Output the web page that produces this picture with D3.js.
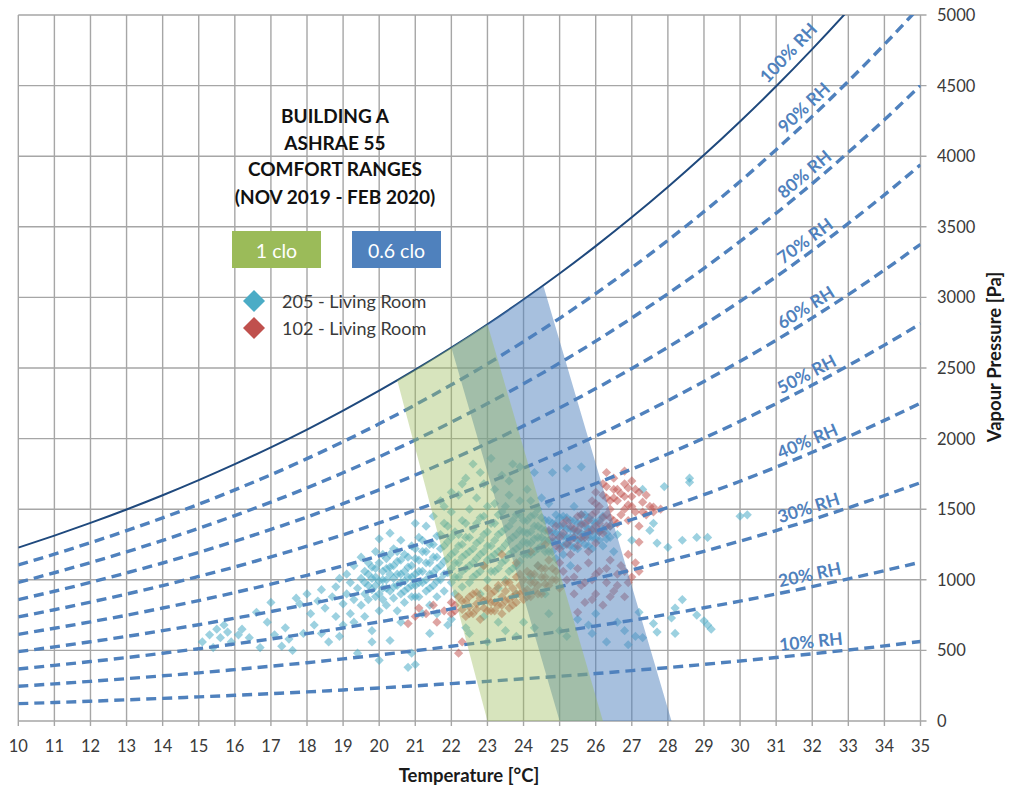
<!DOCTYPE html>
<html><head><meta charset="utf-8">
<script src="https://cdn.jsdelivr.net/npm/d3@7"></script>
<style>
html,body{margin:0;padding:0;background:#fff;}
svg{display:block;font-family:Lato,"Open Sans",sans-serif;}
</style></head><body>
<svg id="chart" width="1010" height="786"></svg>
<script>
// ---- data ----
const temperatures = [10,11,12,13,14,15,16,17,18,19,20,21,22,23,24,25,26,27,28,29,30,31,32,33,34,35];
const yTicks = [0,500,1000,1500,2000,2500,3000,3500,4000,4500,5000];
const rh100 = [1228,1313,1403,1498,1599,1706,1819,1938,2064,2198,2339,2488,2645,2810,2985,3169,3363,3567,3782,4008,4246,4495,4758,5034,5323,5627];
const rh90 = [1105,1182,1263,1348,1439,1535,1637,1744,1858,1978,2105,2239,2381,2529,2687,2852,3027,3210,3404,3607,3821,4046,4282,4531,4791,5064];
const rh80 = [982,1050,1122,1198,1279,1365,1455,1550,1651,1758,1871,1990,2116,2248,2388,2535,2690,2854,3026,3206,3397,3596,3806,4027,4258,4502];
const rh70 = [860,919,982,1049,1119,1194,1273,1357,1445,1539,1637,1742,1852,1967,2090,2218,2354,2497,2647,2806,2972,3147,3331,3524,3726,3939];
const rh60 = [737,788,842,899,959,1024,1091,1163,1238,1319,1403,1493,1587,1686,1791,1901,2018,2140,2269,2405,2548,2697,2855,3020,3194,3376];
const rh50 = [614,657,702,749,800,853,910,969,1032,1099,1170,1244,1323,1405,1493,1585,1682,1784,1891,2004,2123,2248,2379,2517,2662,2814];
const rh40 = [491,525,561,599,640,682,728,775,826,879,936,995,1058,1124,1194,1268,1345,1427,1513,1603,1698,1798,1903,2014,2129,2251];
const rh30 = [368,394,421,449,480,512,546,581,619,659,702,746,794,843,896,951,1009,1070,1135,1202,1274,1349,1427,1510,1597,1688];
const rh20 = [246,263,281,300,320,341,364,388,413,440,468,498,529,562,597,634,673,713,756,802,849,899,952,1007,1065,1125];
const rh10 = [123,131,140,150,160,171,182,194,206,220,234,249,265,281,299,317,336,357,378,401,425,450,476,503,532,563];
const rhLabels = ["100% RH","90% RH","80% RH","70% RH","60% RH","50% RH","40% RH","30% RH","20% RH","10% RH"];

const zone1clo = [[20.5,2413],[21,2488],[22,2645],[23,2810],[26.2,0],[23,0]];
const zone06clo = [[22,2645],[23,2810],[24,2985],[24.55,3083],[28.1,0],[25,0]];
const zoneNames = ["1 clo","0.6 clo"];
const seriesNames = ["205 - Living Room","102 - Living Room"];
const titleLines = ["BUILDING A","ASHRAE 55","COMFORT RANGES","(NOV 2019 - FEB 2020)"];

const room205 = [
[15.1,560],[15.3,610],[15.4,520],[15.5,650],[15.6,590],[15.7,680],[15.8,630],[15.9,560],[16.1,610],[16.2,650],[16.4,590],[16.6,770],[16.7,520],[16.9,700],[17.0,840],[17.1,610],[17.3,530],[17.4,660],[17.5,580],[17.6,500],
[17.7,870],[17.8,830],[17.9,620],[18.0,900],[18.1,760],[18.2,680],[18.3,850],[18.4,930],[18.4,620],[18.5,800],[18.6,560],[18.7,880],[18.8,950],[18.8,740],[18.9,600],[18.9,1010],[19.0,830],[19.0,680],
[19.1,900],[19.1,1040],[19.2,760],[19.2,980],[19.3,860],[19.3,1100],[19.3,700],[19.4,940],[19.4,480],[19.5,1010],[19.5,820],[19.5,1160],[19.6,900],[19.6,1060],[19.6,740],[19.7,960],[19.7,1120],[19.7,860],[19.8,1010],[19.8,930],[19.8,640],[19.9,1080],[19.9,880],[19.9,1200],[20.0,990],[20.0,780],[20.0,430],[20.0,1290],
[20.1,940],[20.1,1060],[20.1,860],[20.2,1150],[20.2,1000],[20.2,820],[20.3,1330],[20.3,920],[20.3,1090],[20.3,570],[20.4,1010],[20.4,1220],[20.4,870],[20.5,960],[20.5,1130],[20.5,780],[20.6,1040],[20.6,900],[20.6,1280],[20.7,1180],[20.7,990],[20.7,840],[20.8,1090],[20.8,940],[20.8,380],[20.9,1240],[20.9,1020],[20.9,880],[20.9,480],[21.0,1150],[21.0,960],[21.0,1400],[21.0,400],
[21.1,1060],[21.1,880],[21.1,1300],[21.2,1200],[21.2,980],[21.2,760],[21.3,1120],[21.3,1380],[21.3,920],[21.4,1040],[21.4,1250],[21.4,820],[21.4,620],[21.5,1160],[21.5,960],[21.5,1450],[21.6,1080],[21.6,1310],[21.6,880],[21.7,1220],[21.7,1000],[21.7,1560],[21.8,1130],[21.8,920],[21.8,1400],[21.9,1270],[21.9,1050],[21.9,680],[22.0,1180],[22.0,980],[22.0,1480],
[22.1,1120],[22.1,1340],[22.1,900],[22.2,1240],[22.2,1020],[22.2,1600],[22.3,1160],[22.3,1420],[22.3,950],[22.4,1300],[22.4,1080],[22.4,1720],[22.5,1200],[22.5,1500],[22.5,980],[22.5,620],[22.6,1360],[22.6,1120],[22.6,1820],[22.7,1260],[22.7,1040],[22.7,1580],[22.8,1180],[22.8,1440],[22.8,900],[22.9,1320],[22.9,1100],[22.9,1680],[23.0,1240],[23.0,1000],[23.0,1520],[23.0,560],
[23.1,1160],[23.1,1400],[23.1,1860],[23.2,1280],[23.2,1060],[23.2,1640],[23.3,1200],[23.3,1460],[23.3,940],[23.4,1340],[23.4,1120],[23.4,1740],[23.5,1250],[23.5,1520],[23.5,1000],[23.5,640],[23.6,1380],[23.6,1180],[23.6,1600],[23.7,1300],[23.7,1080],[23.7,1820],[23.8,1220],[23.8,1460],[23.8,900],[23.9,1350],[23.9,1130],[23.9,1560],[24.0,1270],[24.0,1420],[24.0,700],
[24.1,1330],[24.1,1180],[24.1,1640],[24.2,1260],[24.2,1450],[24.2,1020],[24.3,1380],[24.3,1200],[24.3,1760],[24.4,1300],[24.4,1500],[24.4,1100],[24.5,1360],[24.5,1240],[24.5,1580],[24.6,1420],[24.6,1280],[24.6,900],[24.7,1340],[24.7,1200],[24.7,1540],[24.8,1400],[24.8,1270],[24.8,1760],[24.9,1330],[24.9,1460],[24.9,1150],[25.0,1380],[25.0,1240],[25.0,640],
[25.1,1310],[25.1,1450],[25.1,1180],[25.2,1360],[25.2,1260],[25.2,1790],[25.3,1420],[25.3,1300],[25.3,1100],[25.4,1350],[25.4,1230],[25.4,1520],[25.5,1400],[25.5,1280],[25.5,720],[25.6,1330],[25.6,1460],[25.6,1800],[25.7,1380],[25.7,1250],[25.8,1300],[25.8,1440],[25.8,680],[25.9,1360],[25.9,1220],[26.0,1290],[26.0,1400],[26.0,760],
[26.1,1340],[26.2,1240],[26.2,1450],[26.3,1290],[26.4,1380],[26.5,1200],[26.6,1320],[26.6,700],[26.8,640],[26.9,540],[27.0,1280],[27.1,600],[27.2,770],
[27.3,1640],[27.3,590],[27.5,1350],[27.6,1400],[27.6,690],[27.7,1260],[27.7,630],[27.9,1660],[28.0,1230],[28.1,730],[28.2,800],[28.2,620],[28.4,1280],[28.4,860],[28.6,1720],[28.6,1690],[28.8,1300],[28.8,750],[29.0,710],[29.1,1300],[29.1,680],[29.2,650],[30.0,1450],[30.2,1460],
[19.6,980],[19.7,1040],[19.8,1090],[19.9,960],[19.9,1020],[20.0,1120],[20.0,900],[20.1,1000],[20.1,1180],[20.2,1080],[20.2,940],[20.3,1040],[20.3,1180],[20.4,950],[20.4,1100],[20.5,1040],[20.5,1200],[20.6,980],[20.6,1140],[20.7,1060],[20.7,920],[20.8,1020],[20.8,1160],[20.9,960],[20.9,1100],[21.0,1040],[21.0,1220],[21.0,880],[21.1,1140],[21.1,980],[21.2,1060],[21.2,1280],[21.3,1000],[21.3,1200],[21.4,1120],[21.4,940],[21.5,1050],[21.5,1250],[21.6,1160],[21.6,990],[21.7,1100],[21.7,1320],[21.8,1040],[21.8,1240],[21.9,1150],[21.9,1380],[22.0,1080],[22.0,1300],
[22.1,1200],[22.1,1020],[22.2,1320],[22.2,1120],[22.3,1060],[22.3,1250],[22.4,1180],[22.4,1400],[22.5,1100],[22.5,1300],[22.6,1220],[22.6,1020],[22.7,1150],[22.7,1400],[22.8,1280],[22.8,1060],[22.9,1200],[22.9,1450],[23.0,1140],[23.0,1340],[23.1,1240],[23.1,1060],[23.2,1180],[23.2,1400],[23.3,1320],[23.3,1080],[23.4,1220],[23.4,1480],[23.5,1140],[23.5,1360],[23.6,1280],[23.6,1060],[23.7,1200],[23.7,1420],[23.8,1320],[23.8,1100],[23.9,1240],[23.9,1460],[24.0,1180],[24.0,1340],
[24.1,1260],[24.1,1420],[24.2,1340],[24.2,1180],[24.3,1290],[24.3,1460],[24.4,1220],[24.4,1380],[24.5,1300],[24.5,1440],[24.6,1350],[24.6,1200],[24.7,1280],[24.7,1420],[24.8,1340],[24.8,1200],[24.9,1280],[24.9,1400],[25.0,1320],[25.0,1440],[25.1,1240],[25.1,1380],[25.2,1300],[25.2,1440],[25.3,1360],[25.3,1240],[25.4,1300],[25.4,1420],[25.5,1340],[25.5,1220],[25.6,1280],[25.6,1400],[25.7,1320],[25.7,1460],[25.8,1360],[25.8,1240],[25.9,1300],[25.9,1420],[26.0,1340],[26.1,1280],[26.1,1420],[26.2,1360],[26.3,1330],[26.4,1300],
[22.3,1680],[22.8,1760],[23.2,1540],[23.6,1700],[23.9,1800],[24.2,1560],[22.0,1620],[21.8,1520],
[21.6,760],[22.0,720],[22.4,660],[22.9,740],[23.3,700],[23.8,600],[24.3,660],[24.7,760],[25.2,600],[25.9,620],[26.3,560],[20.6,700],[19.8,560]
];

const room102 = [
[20.8,690],[21.0,740],[21.1,800],[21.3,760],[21.5,820],[21.6,700],[21.8,780],[22.0,840],[22.2,480],[22.3,560],
[22.0,760],[22.1,820],[22.2,880],[22.3,790],[22.4,740],[22.4,850],[22.5,810],[22.6,900],[22.6,760],[22.7,830],[22.8,870],[22.8,720],[22.9,800],[23.0,860],[23.0,940],[23.1,780],[23.1,900],[23.2,840],[23.3,820],[23.3,960],[23.4,880],[23.4,760],[23.5,920],[23.5,850],[23.6,800],[23.6,980],[23.7,880],[23.7,940],[23.8,840],[23.8,1020],[23.9,900],[23.9,960],[24.0,860],[24.0,1000],[24.1,930],[24.1,1060],[24.2,880],[24.2,980],[24.3,1040],[24.3,920],[24.4,960],[24.4,1100],[24.5,900],[24.5,1020],[24.6,1080],[24.6,970],[24.7,1140],[24.8,1000],[24.9,1060],[25.0,940],
[22.9,1100],[23.4,1180],[23.8,1120],[24.2,1200],
[24.6,1250],[24.8,1300],[24.9,1380],[25.0,1220],[25.1,1330],[25.2,1420],[25.3,1280],[25.4,1360],[25.5,1450],[25.5,1240],[25.6,1390],[25.7,1300],[25.8,1420],[25.9,1350],[26.0,1480],[26.0,1260],[26.1,1400],[26.2,1330],[26.3,1460],[26.4,1380],[26.5,1420],[25.3,1180],[25.8,1200],
[25.9,1560],[26.0,1620],[26.1,1520],[26.2,1680],[26.3,1580],[26.4,1500],[26.5,1640],[26.5,1720],[26.6,1560],[26.7,1460],[26.7,1610],[26.8,1680],[26.9,1530],[26.9,1420],[27.0,1590],[27.0,1700],[27.1,1480],[27.2,1620],[27.2,1380],[27.3,1550],[27.4,1460],[27.5,1520],[27.6,1480],[27.8,1500],[26.3,1760],[26.8,1770],
[25.2,1000],[25.4,900],[25.5,1080],[25.6,960],[25.7,840],[25.8,1120],[25.9,1000],[26.0,900],[26.1,1060],[26.2,820],[26.3,980],[26.4,1140],[26.5,920],[26.6,1040],[26.7,1100],[26.8,880],[26.9,1180],[27.0,1020],[27.1,1120],[25.5,770],[26.9,980],[27.2,1060],[27.6,1515],[27.2,1267],
[22.1,780],[22.3,850],[22.5,760],[22.5,880],[22.7,790],[22.7,910],[22.9,850],[23.0,780],[23.1,840],[23.2,920],[23.2,780],[23.4,820],[23.5,980],[23.6,860],[23.7,820],[23.8,900],[23.9,1040],[24.0,920],[24.1,880],[24.2,1040],[24.3,980],[24.4,900],[24.5,1080],[24.6,1020],[24.7,960],[24.8,1080],[24.9,1000],[25.0,1120],[25.1,1060],
[24.7,1350],[24.9,1240],[25.0,1300],[25.1,1400],[25.2,1250],[25.3,1380],[25.4,1300],[25.5,1350],[25.6,1300],[25.6,1460],[25.7,1400],[25.8,1340],[25.9,1460],[26.0,1380],[26.1,1340],[26.2,1440],[26.3,1380],[26.4,1440],[26.6,1400],[26.8,1500],
[26.0,1540],[26.2,1600],[26.4,1560],[26.6,1640],[26.8,1590],[27.0,1520],[27.1,1640],[27.3,1480],[26.5,1580],[26.9,1650],[27.4,1600],[26.3,1660],
[25.4,1020],[25.7,980],[26.0,1040],[26.3,1080],[26.6,960],[26.8,1060],[25.9,860],[26.4,880]
];

// ---- drawing ----
const svg = d3.select("#chart");
const L = 18.3, R = 920.5, T = 15, B = 721;
const x = d3.scaleLinear().domain([10,35]).range([L,R]);
const y = d3.scaleLinear().domain([0,5000]).range([B,T]);

const gridColor = "#a6a6a6";
const rhColor = "#4f81bd";
const textColor = "#3a3a3a";

svg.append("defs").append("clipPath").attr("id","plotclip")
  .append("rect").attr("x",L).attr("y",T).attr("width",R-L).attr("height",B-T);

// grid
const grid = svg.append("g");
grid.selectAll(".vg").data(temperatures).join("line")
  .attr("x1",d=>x(d)).attr("x2",d=>x(d)).attr("y1",T).attr("y2",B+5)
  .attr("stroke",gridColor).attr("stroke-width",1.4);
grid.selectAll(".hg").data(yTicks).join("line")
  .attr("x1",L).attr("x2",R+6).attr("y1",d=>y(d)).attr("y2",d=>y(d))
  .attr("stroke",gridColor).attr("stroke-width",1.4);

// tick labels
svg.append("g").selectAll("text").data(temperatures).join("text")
  .attr("x",d=>x(d)).attr("y",746).attr("text-anchor","middle").attr("dominant-baseline","central")
  .attr("font-size",16.5).attr("fill",textColor).text(d=>d);
svg.append("g").selectAll("text").data(yTicks).join("text")
  .attr("x",937).attr("y",d=>y(d)).attr("text-anchor","start").attr("dominant-baseline","central")
  .attr("font-size",16.5).attr("fill",textColor).text(d=>d);

// axis titles
svg.append("text").attr("x",469).attr("y",775).attr("text-anchor","middle").attr("dominant-baseline","central")
  .attr("font-size",18.5).attr("font-weight","bold").attr("fill","#1a1a1a").text("Temperature [°C]");
svg.append("text").attr("transform","translate(994,357) rotate(-90)").attr("text-anchor","middle").attr("dominant-baseline","central")
  .attr("font-size",18.5).attr("font-weight","bold").attr("fill","#1a1a1a").text("Vapour Pressure [Pa]");

const plot = svg.append("g").attr("clip-path","url(#plotclip)");

// scatter
const diamond = r => `M0,${-r}L${r},0L0,${r}L${-r},0Z`;
plot.append("g").selectAll("path").data(room205).join("path")
  .attr("d",diamond(4.6)).attr("transform",d=>`translate(${x(d[0])},${y(d[1])})`)
  .attr("fill","#4bacc6").attr("fill-opacity",0.55);
plot.append("g").selectAll("path").data(room102).join("path")
  .attr("d",diamond(4.6)).attr("transform",d=>`translate(${x(d[0])},${y(d[1])})`)
  .attr("fill","#c0504d").attr("fill-opacity",0.52);

// RH lines
const rhSeries = [rh100,rh90,rh80,rh70,rh60,rh50,rh40,rh30,rh20,rh10];
const line = d3.line().x((d,i)=>x(temperatures[i])).y(d=>y(d)).curve(d3.curveMonotoneX);
rhSeries.forEach((vals,k)=>{
  const p = plot.append("path").datum(vals).attr("d",line).attr("fill","none");
  if(k===0){ p.attr("stroke","#1f497d").attr("stroke-width",2); }
  else { p.attr("stroke",rhColor).attr("stroke-width",3.4).attr("stroke-dasharray","10,6"); }
});

// comfort zones
const zoneLine = d3.line().x(d=>x(d[0])).y(d=>y(d[1]));
plot.append("path").datum(zone06clo).attr("d",d=>zoneLine(d)+"Z").attr("fill","#4f81bd").attr("fill-opacity",0.5);
plot.append("path").datum(zone1clo).attr("d",d=>zoneLine(d)+"Z").attr("fill","#9bbb59").attr("fill-opacity",0.4);

// RH labels
rhSeries.forEach((vals,k)=>{
  const i = 22;
  const x1=x(temperatures[i-1]), y1=y(vals[i-1]), x2=x(temperatures[i+1]), y2=y(vals[i+1]);
  const ang = Math.atan2(y2-y1,x2-x1)*180/Math.PI;
  const cx = x(temperatures[i]), cy = y(vals[i]);
  const along = k===0 ? -19 : 0, perp = k===0 ? -15 : -12.5;
  svg.append("text").attr("transform",`translate(${cx},${cy}) rotate(${ang})`)
    .attr("x",along).attr("y",perp).attr("text-anchor","middle").attr("dominant-baseline","central")
    .attr("font-size",17.5).attr("font-weight","bold").attr("fill",rhColor).text(rhLabels[k]);
});

// title
svg.append("g").selectAll("text").data(titleLines).join("text")
  .attr("x",335).attr("y",(d,i)=>[115,142,168.5,196][i]).attr("text-anchor","middle").attr("dominant-baseline","central")
  .attr("font-size",19).attr("font-weight","bold").attr("fill","#111").text(d=>d);

// zone legend boxes
const boxes = [{x:232,c:"#9bbb59"},{x:352,c:"#4f81bd"}];
boxes.forEach((b,i)=>{
  svg.append("rect").attr("x",b.x).attr("y",231).attr("width",89).attr("height",37).attr("fill",b.c);
  svg.append("text").attr("x",b.x+44.5).attr("y",250).attr("text-anchor","middle").attr("dominant-baseline","central")
    .attr("font-size",19.5).attr("fill","#fff").text(zoneNames[i]);
});

// series legend
const legCols = ["#4bacc6","#c0504d"];
seriesNames.forEach((n,i)=>{
  const cy = 301 + i*27;
  svg.append("path").attr("d",diamond(11)).attr("transform",`translate(254,${cy})`).attr("fill",legCols[i]);
  svg.append("text").attr("x",282).attr("y",cy).attr("dominant-baseline","central")
    .attr("font-size",18).attr("fill",textColor).text(n);
});
</script>
</body></html>
